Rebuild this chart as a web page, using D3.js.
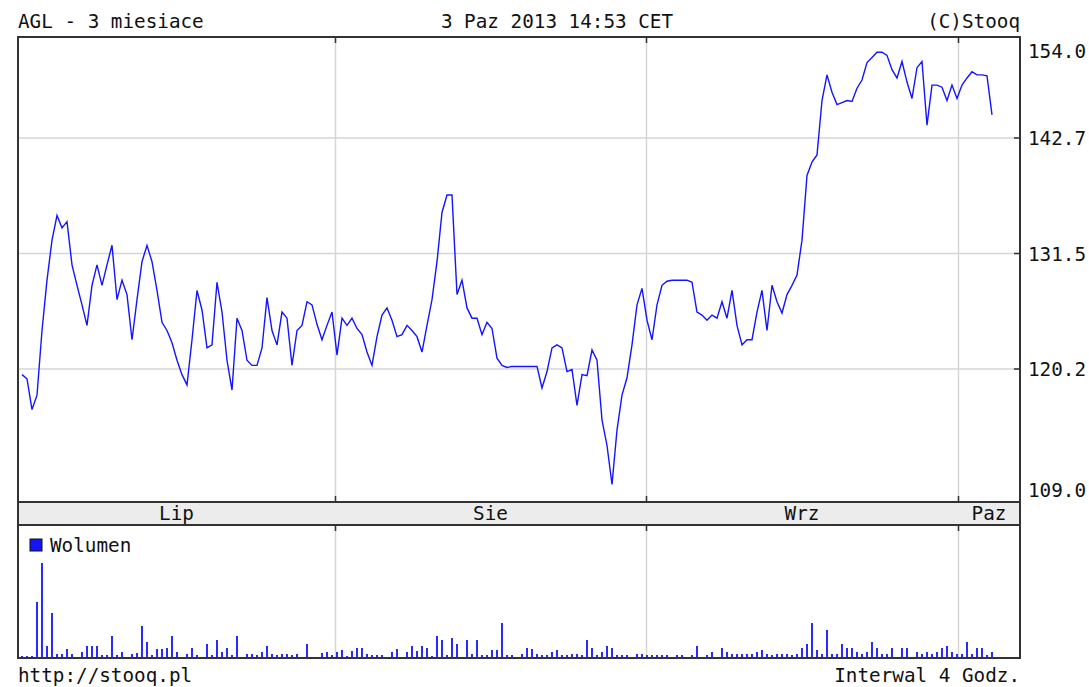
<!DOCTYPE html>
<html>
<head>
<meta charset="utf-8">
<script src="https://cdn.jsdelivr.net/npm/d3@7/dist/d3.min.js"></script>
<style>
  html, body { margin: 0; padding: 0; background: #fff; }
  svg text { font-family: "DejaVu Sans Mono", monospace; font-size: 19.3px; fill: #111; }
</style>
</head>
<body>
<div id="chart"></div>
<script>
'use strict'
// AGL, 4-hour bars, last 3 months
let price = [
  119.7,119.3,116.3,117.7,124.0,128.9,132.8,135.2,134.0,134.6,
  130.4,128.4,126.5,124.5,128.4,130.4,128.4,130.4,132.3,127.0,
  128.9,127.5,123.1,127.0,130.7,132.3,130.7,127.9,124.8,124.0,
  122.8,121.1,119.7,118.7,123.1,127.9,126.0,122.3,122.6,128.7,
  125.8,121.1,118.2,125.2,124.0,121.1,120.6,120.6,122.3,127.2,
  124.0,122.6,125.8,125.2,120.6,124.0,124.5,126.8,126.5,124.6,
  123.1,124.5,125.8,121.6,125.2,124.5,125.2,124.2,123.6,121.9,
  120.6,123.4,125.5,126.2,125.0,123.4,123.6,124.5,124.0,123.4,
  121.9,124.5,127.0,130.7,135.5,137.2,137.2,127.5,128.9,126.2,
  125.2,125.2,123.6,124.8,124.2,121.3,120.6,120.4,120.5,120.5,
  120.5,120.5,120.5,120.5,118.4,120.0,122.3,122.6,122.3,120.0,
  120.2,116.7,119.7,119.6,122.1,121.1,115.3,112.8,109.0,114.3,
  117.7,119.4,122.6,126.5,128.1,125.0,123.1,126.5,128.4,128.8,
  128.9,128.9,128.9,128.9,128.7,125.8,125.5,125.0,125.5,125.2,
  126.8,125.2,127.9,124.5,122.6,123.1,123.1,125.8,127.9,124.0,
  128.4,126.8,125.7,127.5,128.4,129.4,132.8,139.1,140.4,141.1,
  146.4,148.9,147.2,146.0,146.2,146.4,146.3,147.6,148.4,150.1,
  150.6,151.1,151.1,150.8,149.4,148.6,150.2,148.2,146.6,149.6,
  150.2,144.0,147.9,147.9,147.7,146.4,147.9,146.6,147.9,148.6,
  149.2,148.9,148.9,148.8,145.0
];
let volume = [
  1,1,1,55,94,11,44,3,3,8,
  3,0,5,11,11,11,2,2,21,2,
  5,0,3,4,31,15,2,8,8,9,
  21,5,0,3,9,2,0,13,2,17,
  5,9,2,21,0,3,3,2,5,11,
  3,2,3,3,2,3,0,13,0,0,
  4,5,2,5,7,1,6,9,9,3,
  2,2,2,0,5,8,0,5,11,6,
  11,9,1,21,17,2,19,13,0,17,
  3,17,2,2,7,7,34,2,2,0,
  3,9,8,3,2,2,5,7,2,2,
  3,3,2,17,9,2,5,11,9,2,
  2,2,0,3,3,2,2,2,2,2,
  0,2,2,0,2,11,0,2,5,0,
  9,5,3,3,3,3,3,5,7,3,
  2,3,3,3,2,3,9,13,34,7,
  3,27,3,3,13,9,9,5,3,5,
  15,9,3,3,9,0,9,9,0,5,
  3,5,3,5,9,11,5,3,3,15,
  3,9,9,2,5
];
let months = ['Lip', 'Sie', 'Wrz', 'Paz'];
let monthBreaks = [62.6, 124.8, 187.2];   // bar index where a new month starts
let priceGrid = [142.75, 131.5, 120.25];
let priceMin = 109.0, priceMax = 154.0;

let W = 1089, H = 687;
let fLeft = 18, fRight = 1020, fTop = 37, priceBottom = 502, bandBottom = 525, volBottom = 658;
let dark = '#333', grid = '#d6d6d6', blue = '#1414ff';

let svg = d3.select('#chart').append('svg')
  .attr('width', W).attr('height', H);

let x = d3.scaleLinear().domain([0, price.length - 1]).range([22, 992]);
let y = d3.scaleLinear().domain([priceMin, priceMax]).range([484.5, 22.5]);
let yv = d3.scaleLinear().domain([0, d3.max(volume)]).range([657, 563]);

// band with month names
svg.append('rect').attr('x', fLeft).attr('y', priceBottom)
  .attr('width', fRight - fLeft).attr('height', bandBottom - priceBottom)
  .attr('fill', '#ececec');

// grid lines
svg.selectAll('.hgrid').data(priceGrid).enter().append('line')
  .attr('x1', fLeft).attr('x2', fRight)
  .attr('y1', d => y(d)).attr('y2', d => y(d))
  .attr('stroke', grid).attr('stroke-width', 1.5);
monthBreaks.forEach(function(b) {
  let bx = Math.round(x(b)) + 0.5;
  [[fTop, priceBottom], [bandBottom, volBottom]].forEach(function(seg) {
    svg.append('line').attr('x1', bx).attr('x2', bx)
      .attr('y1', seg[0]).attr('y2', seg[1])
      .attr('stroke', grid).attr('stroke-width', 1.5);
  });
  [[fTop, fTop + 6], [priceBottom - 6, priceBottom], [bandBottom, bandBottom + 6]].forEach(function(seg) {
    svg.append('line').attr('x1', bx).attr('x2', bx)
      .attr('y1', seg[0]).attr('y2', seg[1])
      .attr('stroke', dark).attr('stroke-width', 1.5);
  });
});

// volume bars
svg.selectAll('.vol').data(volume).enter().append('rect')
  .attr('x', (d, i) => Math.round(x(i)) - 1)
  .attr('y', d => yv(d))
  .attr('width', 2)
  .attr('height', d => 657 - yv(d))
  .attr('fill', '#2a2aff');

// price line
let line = d3.line().x((d, i) => x(i)).y(d => y(d));
svg.append('path').datum(price)
  .attr('d', line)
  .attr('fill', 'none')
  .attr('stroke', blue)
  .attr('stroke-width', 1.4);

// frames
[fTop, priceBottom, bandBottom, volBottom].forEach(function(r) {
  svg.append('line').attr('x1', fLeft - 1).attr('x2', fRight + 1)
    .attr('y1', r).attr('y2', r)
    .attr('stroke', dark).attr('stroke-width', 2);
});
[fLeft, fRight].forEach(function(cx) {
  svg.append('line').attr('x1', cx).attr('x2', cx)
    .attr('y1', fTop).attr('y2', volBottom)
    .attr('stroke', dark).attr('stroke-width', 2);
});

// price axis ticks + labels
svg.selectAll('.ytick').data(priceGrid).enter().append('line')
  .attr('x1', fRight - 6).attr('x2', fRight)
  .attr('y1', d => y(d)).attr('y2', d => y(d))
  .attr('stroke', dark).attr('stroke-width', 1.5);
svg.selectAll('.ylab').data(priceGrid).enter().append('text')
  .attr('x', 1028).attr('y', d => y(d) + 7)
  .text(d => d3.format('.1f')(Math.floor(d * 10) / 10));
svg.append('text').attr('x', 1028).attr('y', fTop + 21).text(priceMax.toFixed(1));
svg.append('text').attr('x', 1028).attr('y', priceBottom - 5).text(priceMin.toFixed(1));

// month labels
let edges = [x.invert(fLeft)].concat(monthBreaks, [x.invert(fRight)]);
months.forEach(function(m, i) {
  svg.append('text')
    .attr('x', (x(edges[i]) + x(edges[i + 1])) / 2)
    .attr('y', 520)
    .attr('text-anchor', 'middle')
    .text(m);
});

// header and footer
svg.append('text').attr('x', fLeft).attr('y', 28).text('AGL - 3 miesiace');
svg.append('text').attr('x', 557).attr('y', 28).attr('text-anchor', 'middle').text('3 Paz 2013 14:53 CET');
svg.append('text').attr('x', fRight).attr('y', 28).attr('text-anchor', 'end').text('(C)Stooq');
svg.append('text').attr('x', fLeft).attr('y', 682).text('http://stooq.pl');
svg.append('text').attr('x', fRight).attr('y', 682).attr('text-anchor', 'end').text('Interwal 4 Godz.');

// legend
svg.append('rect').attr('x', 30).attr('y', 539).attr('width', 12).attr('height', 12)
  .attr('fill', blue).attr('stroke', '#111').attr('stroke-width', 1);
svg.append('text').attr('x', 50).attr('y', 552).text('Wolumen');
</script>
</body>
</html>
